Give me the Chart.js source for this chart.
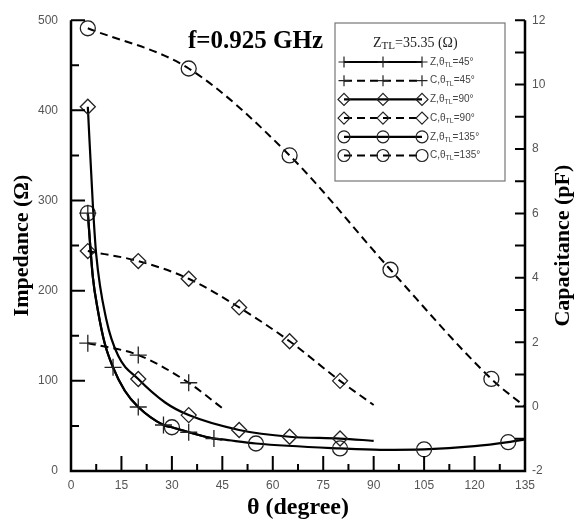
<!DOCTYPE html>
<html>
<head>
<meta charset="utf-8">
<script src="https://cdn.jsdelivr.net/npm/chart.js@4.4.1/dist/chart.umd.min.js"></script>
<style>
  html, body { margin: 0; padding: 0; background: #fff; }
  canvas { display: block; }
</style>
</head>
<body>
<canvas id="chart" width="576" height="526"></canvas>
<script>
// values: theta in degree, Z in ohm, C in pF
const zTheta45 = [5, 6.5, 8, 10, 12.5, 16, 20, 27.5, 30, 35, 42.5, 45];
const zImp45 = [286, 215, 178, 142, 115, 89, 71, 51, 48.5, 43, 36, 35];
const zMarks45 = [5, 12.5, 20, 27.5, 35, 42.5];

const cTheta45 = [5, 20, 35, 45];
const cCap45 = [1.97, 1.6, 0.74, -0.05];
const cMarks45 = [5, 20, 35];

const zTheta90 = [5, 6.5, 7.5, 10.5, 14, 20, 28, 35, 50, 65, 80, 90];
const zImp90 = [404, 295, 240, 168, 128, 102, 76, 62, 45.5, 38, 36, 33.5];
const zMarks90 = [5, 20, 35, 50, 65, 80];

const cTheta90 = [5, 20, 35, 50, 65, 80, 90];
const cCap90 = [4.83, 4.52, 3.97, 3.08, 2.03, 0.8, 0.05];
const cMarks90 = [5, 20, 35, 50, 65, 80];

const zTheta135 = [5, 6.5, 8, 10, 12.5, 16, 20, 27.5, 30, 35, 42.5, 45, 55, 80, 92, 105, 120, 130, 135];
const zImp135 = [286, 215, 178, 142, 115, 89, 71, 51, 48.5, 43, 36, 35, 30.5, 25, 23.5, 24, 27.5, 32, 35];
const zMarks135 = [5, 30, 55, 80, 105, 130];

const cTheta135 = [5, 35, 65, 95, 125, 135];
const cCap135 = [11.75, 10.5, 7.8, 4.25, 0.86, 0];
const cMarks135 = [5, 35, 65, 95, 125];

const seriesLabels = ['Z,θ_TL=45°', 'C,θ_TL=45°', 'Z,θ_TL=90°', 'C,θ_TL=90°', 'Z,θ_TL=135°', 'C,θ_TL=135°'];

const markerSize = { circle: 7.5, rectRot: 7.5, cross: 8.5 };
const legendSize = { circle: 6, rectRot: 6, cross: 5.5 };

const toPoints = (xs, ys) => xs.map((x, i) => ({ x: x, y: ys[i] }));

function series(label, xs, ys, marks, axis, style, dashed) {
  return {
    label: label,
    data: toPoints(xs, ys),
    yAxisID: axis,
    showLine: true,
    cubicInterpolationMode: 'monotone',
    borderColor: '#000',
    borderWidth: dashed ? 2 : 2.2,
    borderDash: dashed ? [8, 5] : [],
    pointStyle: style,
    pointRadius: ctx => (ctx.raw && marks.includes(ctx.raw.x)) ? markerSize[style] : 0,
    pointHoverRadius: 0,
    pointBorderColor: '#222',
    pointBorderWidth: 1.3,
    pointBackgroundColor: 'rgba(0,0,0,0)'
  };
}

function drawMarker(ctx, style, x, y, r) {
  ctx.beginPath();
  if (style === 'circle') {
    ctx.arc(x, y, r, 0, Math.PI * 2);
  } else if (style === 'rectRot') {
    ctx.moveTo(x - r, y); ctx.lineTo(x, y - r); ctx.lineTo(x + r, y); ctx.lineTo(x, y + r); ctx.closePath();
  } else {
    ctx.moveTo(x - r, y); ctx.lineTo(x + r, y); ctx.moveTo(x, y - r); ctx.lineTo(x, y + r);
  }
  ctx.stroke();
}

// text with a "_XX" subscript part
function drawSubText(ctx, text, x, y, size, subSize, family, drop) {
  const m = text.match(/^(.*)_([A-Z]+)(.*)$/);
  const parts = m ? [[m[1], size, 0], [m[2], subSize, drop], [m[3], size, 0]] : [[text, size, 0]];
  let cx = x;
  parts.forEach(p => {
    ctx.font = p[1] + 'px ' + family;
    ctx.fillText(p[0], cx, y + p[2]);
    cx += ctx.measureText(p[0]).width;
  });
}

const decor = {
  id: 'decor',
  afterDraw(chart) {
    const ctx = chart.ctx;
    const a = chart.chartArea;
    const x = chart.scales.x, y = chart.scales.y, y1 = chart.scales.y1;
    ctx.save();
    ctx.strokeStyle = '#000';
    ctx.lineWidth = 2.5;
    ctx.beginPath();
    ctx.moveTo(a.left, a.top); ctx.lineTo(a.left, a.bottom); ctx.lineTo(a.right, a.bottom); ctx.lineTo(a.right, a.top);
    ctx.stroke();

    ctx.lineWidth = 2;
    ctx.beginPath();
    for (let v = 0; v <= 135; v += 7.5) {
      const px = x.getPixelForValue(v);
      ctx.moveTo(px, a.bottom); ctx.lineTo(px, a.bottom - (v % 15 === 0 ? 15 : 7));
    }
    for (let v = 0; v <= 500; v += 50) {
      const py = y.getPixelForValue(v);
      ctx.moveTo(a.left, py); ctx.lineTo(a.left + (v % 100 === 0 ? 14 : 8), py);
    }
    for (let v = -2; v <= 12; v += 1) {
      const py = y1.getPixelForValue(v);
      ctx.moveTo(a.right, py); ctx.lineTo(a.right - 10, py);
    }
    ctx.stroke();

    // right axis title, reading bottom to top
    ctx.fillStyle = '#000';
    ctx.font = 'bold 22px "Liberation Serif", "Times New Roman", serif';
    ctx.textAlign = 'center';
    ctx.textBaseline = 'middle';
    ctx.translate(563, (a.top + a.bottom) / 2);
    ctx.rotate(-Math.PI / 2);
    ctx.fillText('Capacitance (pF)', 0, 0);
    ctx.setTransform(1, 0, 0, 1, 0, 0);

    // frequency note
    ctx.textAlign = 'left';
    ctx.font = 'bold 25px "Liberation Serif", "Times New Roman", serif';
    ctx.fillText('f=0.925 GHz', 188, 42);

    // legend
    const lx = 335, ly = 23, lw = 170, lh = 158;
    ctx.fillStyle = '#fff';
    ctx.fillRect(lx, ly, lw, lh);
    ctx.strokeStyle = '#777';
    ctx.lineWidth = 1.2;
    ctx.strokeRect(lx, ly, lw, lh);
    ctx.fillStyle = '#222';
    ctx.textBaseline = 'middle';
    drawSubText(ctx, 'Z_TL=35.35 (Ω)', 373, 43, 14, 11, '"Liberation Serif", serif', 3);

    chart.data.datasets.forEach((ds, i) => {
      const ry = 62 + i * 18.7;
      ctx.strokeStyle = '#000';
      ctx.lineWidth = ds.borderWidth;
      ctx.setLineDash(ds.borderDash);
      ctx.beginPath();
      ctx.moveTo(344, ry); ctx.lineTo(422, ry);
      ctx.stroke();
      ctx.setLineDash([]);
      ctx.strokeStyle = '#222';
      ctx.lineWidth = 1.2;
      [344, 383, 422].forEach(mx => drawMarker(ctx, ds.pointStyle, mx, ry, legendSize[ds.pointStyle]));
      ctx.fillStyle = '#444';
      drawSubText(ctx, ds.label, 430, ry, 10, 7, '"Liberation Sans", Arial, sans-serif', 3);
    });
    ctx.restore();
  }
};

const tickFont = { family: '"Liberation Sans", Arial, sans-serif', size: 12 };

new Chart(document.getElementById('chart'), {
  type: 'scatter',
  data: {
    datasets: [
      series(seriesLabels[0], zTheta45, zImp45, zMarks45, 'y', 'cross', false),
      series(seriesLabels[1], cTheta45, cCap45, cMarks45, 'y1', 'cross', true),
      series(seriesLabels[2], zTheta90, zImp90, zMarks90, 'y', 'rectRot', false),
      series(seriesLabels[3], cTheta90, cCap90, cMarks90, 'y1', 'rectRot', true),
      series(seriesLabels[4], zTheta135, zImp135, zMarks135, 'y', 'circle', false),
      series(seriesLabels[5], cTheta135, cCap135, cMarks135, 'y1', 'circle', true)
    ]
  },
  options: {
    responsive: false,
    animation: false,
    events: [],
    layout: { padding: { top: 16, left: 0, right: 0, bottom: 0 } },
    plugins: { legend: { display: false }, tooltip: { enabled: false } },
    scales: {
      x: {
        type: 'linear',
        min: 0,
        max: 135,
        ticks: { stepSize: 15, padding: 7, color: '#555', font: tickFont, maxRotation: 0, autoSkip: false },
        grid: { display: false, drawTicks: false },
        border: { display: false },
        title: { display: true, text: 'θ (degree)', color: '#000', padding: { top: 0, bottom: 4 },
                 font: { family: '"Liberation Serif", "Times New Roman", serif', size: 24, weight: 'bold' } },
        afterFit: s => { s.height = 55; }
      },
      y: {
        type: 'linear',
        position: 'left',
        min: 0,
        max: 500,
        ticks: { stepSize: 100, padding: 13, color: '#555', font: tickFont },
        grid: { display: false, drawTicks: false },
        border: { display: false },
        title: { display: true, text: 'Impedance (Ω)', color: '#000', padding: { top: 9, bottom: 0 },
                 font: { family: '"Liberation Serif", "Times New Roman", serif', size: 22, weight: 'bold' } },
        afterFit: s => { s.width = 71; }
      },
      y1: {
        type: 'linear',
        position: 'right',
        min: -2,
        max: 12,
        ticks: { stepSize: 2, padding: 7, color: '#555', font: tickFont },
        grid: { display: false, drawTicks: false },
        border: { display: false },
        afterFit: s => { s.width = 51; }
      }
    }
  },
  plugins: [decor]
});
</script>
</body>
</html>
